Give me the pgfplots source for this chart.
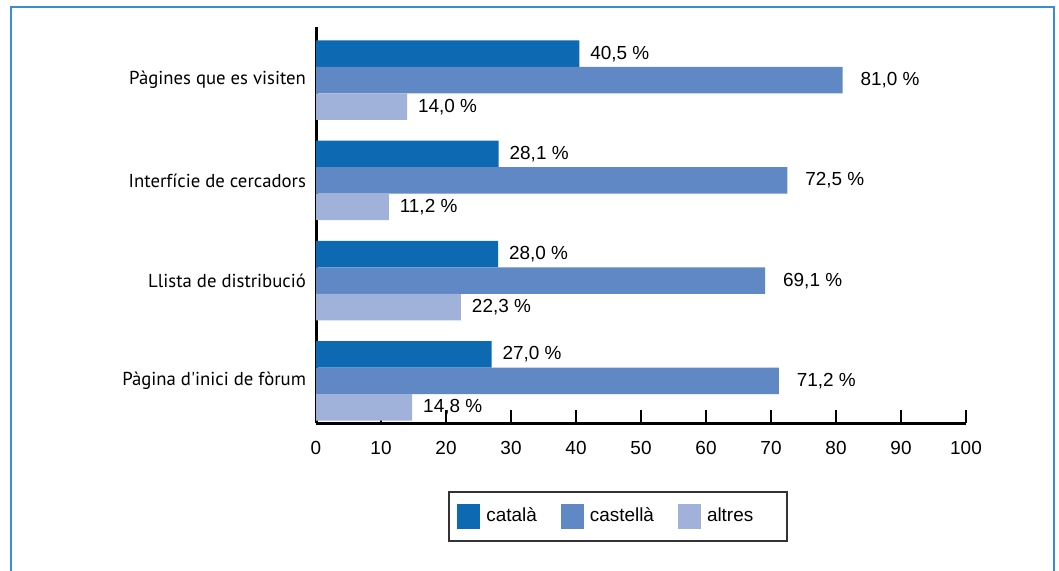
\documentclass[border=0pt]{standalone}
\usepackage{fontspec}
\setmainfont{Liberation Sans}
\newfontfamily\catfont{PT Sans}
\usepackage{pgfplots}
\pgfplotsset{compat=1.18}
\definecolor{ccat}{RGB}{13,106,178}
\definecolor{ccas}{RGB}{96,136,196}
\definecolor{calt}{RGB}{160,178,218}
\definecolor{cframe}{RGB}{58,140,212}
\begin{document}
\begin{tikzpicture}
\path[use as bounding box] (0,0) rectangle (529.5bp,285.5bp);
\draw[cframe, line width=1bp] (5.5bp,-2bp) -- (5.5bp,282bp) -- (527bp,282bp) -- (527bp,-2bp);
\begin{axis}[
  at={(158bp,74bp)}, anchor=south west,
  scale only axis, width=325bp, height=198bp,
  xbar, bar width=13.25bp,
  xmin=0, xmax=100, ymin=-0.42, ymax=3.53,
  enlargelimits=false, clip=false,
  axis x line=bottom, axis y line=left,
  axis line style={line width=1.5bp, black, -},
  xtick={0,10,...,100},
  tick align=inside,
  major tick length=6.5bp,
  xtick style={line width=1.2bp, black},
  ytick={0,1,2,3},
  yticklabels={Pàgina d\textquotesingle inici de fòrum, Llista de distribució, Interfície de cercadors, Pàgines que es visiten},
  ytick style={draw=none},
  yticklabel style={font=\catfont\fontsize{9.4}{11}\selectfont, xshift=-1.5bp},
  xticklabel style={font=\fontsize{9.5}{11}\selectfont, yshift=-5.5bp},
  /pgf/number format/assume math mode=true,
  point meta=x,
  nodes near coords={\pgfmathprintnumber[fixed,fixed zerofill,precision=1,use comma]{\pgfplotspointmeta}~\%},
  every node near coord/.append style={font=\fontsize{9.5}{11}\selectfont, xshift=2bp, black},
  legend image code/.code={\fill[#1,draw=none] (0bp,-6.25bp) rectangle (11.5bp,6.25bp);},
  legend columns=-1,
  legend style={draw=none, fill=none, at={(0.2169,-0.2361)}, anchor=west, inner sep=0pt,
    font=\fontsize{9.5}{11}\selectfont,
    /tikz/every odd column/.append style={column sep=1bp},
    /tikz/every even column/.append style={column sep=10bp}},
]
\addplot[fill=ccat, draw=none, bar shift=13.25bp] coordinates {(27.0,0) (28.0,1) (28.1,2) (40.5,3)};
\addplot[fill=ccas, draw=none, bar shift=0bp, every node near coord/.append style={xshift=3.5bp}] coordinates {(71.2,0) (69.1,1) (72.5,2) (81.0,3)};
\addplot[fill=calt, draw=none, bar shift=-13.25bp] coordinates {(14.8,0) (22.3,1) (11.2,2) (14.0,3)};
\legend{català, castellà, altres}
\end{axis}
\draw[black!80, line width=0.8bp] (224.5bp,15bp) rectangle (393.5bp,39.5bp);
\end{tikzpicture}
\end{document}
